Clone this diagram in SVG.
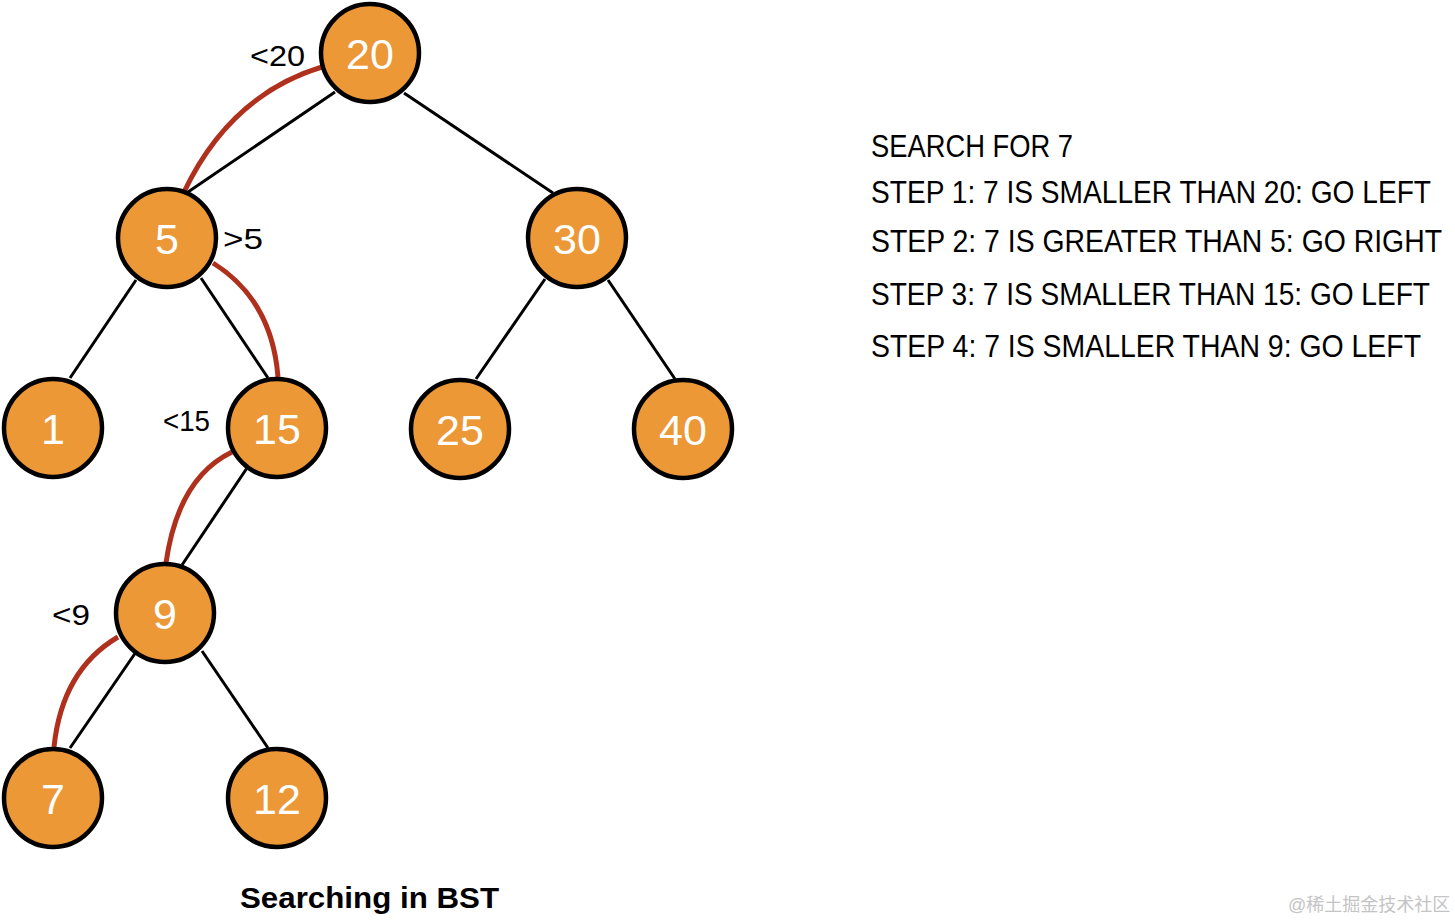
<svg xmlns="http://www.w3.org/2000/svg" width="1455" height="921" viewBox="0 0 1455 921">
<style>
.n circle{fill:#EC9836;stroke:#000;stroke-width:4.5}
.n text{fill:#fff;font-family:"Liberation Sans",Arial,sans-serif;font-size:43px;text-anchor:middle}
.e{stroke:#000;stroke-width:3;fill:none}
.p{stroke:#B0301E;stroke-width:5;fill:none}
.lbl{font-family:"Liberation Sans",Arial,sans-serif;font-size:30px;fill:#000}
.step{font-family:"Liberation Sans",Arial,sans-serif;font-size:28px;fill:#000}
</style>
<rect width="1455" height="921" fill="#fff"/>
<g id="connectors">
<line class="e" x1="335" y1="92" x2="188" y2="192"/>
<line class="e" x1="404" y1="93" x2="553" y2="193"/>
<line class="e" x1="136" y1="280" x2="70" y2="378"/>
<line class="e" x1="201" y1="278" x2="268" y2="378"/>
<line class="e" x1="545" y1="279" x2="476" y2="379"/>
<line class="e" x1="608" y1="280" x2="675" y2="379"/>
<line class="e" x1="247" y1="468" x2="182" y2="565"/>
<line class="e" x1="136" y1="652" x2="70" y2="748"/>
<line class="e" x1="202" y1="651" x2="268" y2="748"/>
<path class="p" d="M322,67 Q230,95 184,192"/>
<path class="p" d="M213,263 Q272,300 278,377"/>
<path class="p" d="M232,452 Q178,478 166,563"/>
<path class="p" d="M118,637 Q62,670 54,747"/>
</g>
<g id="node-20" class="n"><circle cx="370" cy="53" r="49"/><text x="370" y="69">20</text></g>
<g id="node-5" class="n"><circle cx="167" cy="238" r="49"/><text x="167" y="254">5</text></g>
<g id="node-30" class="n"><circle cx="577" cy="238" r="49"/><text x="577" y="254">30</text></g>
<g id="node-1" class="n"><circle cx="53" cy="428" r="49"/><text x="53" y="444">1</text></g>
<g id="node-15" class="n"><circle cx="277" cy="428" r="49"/><text x="277" y="444">15</text></g>
<g id="node-25" class="n"><circle cx="460" cy="429" r="49"/><text x="460" y="445">25</text></g>
<g id="node-40" class="n"><circle cx="683" cy="429" r="49"/><text x="683" y="445">40</text></g>
<g id="node-9" class="n"><circle cx="165" cy="613" r="49"/><text x="165" y="629">9</text></g>
<g id="node-7" class="n"><circle cx="53" cy="798" r="49"/><text x="53" y="814">7</text></g>
<g id="node-12" class="n"><circle cx="277" cy="798" r="49"/><text x="277" y="814">12</text></g>
<g id="labels">
<text class="lbl" x="250" y="66" textLength="55" lengthAdjust="spacingAndGlyphs">&lt;20</text>
<text class="lbl" x="223" y="249" textLength="40" lengthAdjust="spacingAndGlyphs">&gt;5</text>
<text class="lbl" x="163" y="431" textLength="47" lengthAdjust="spacingAndGlyphs">&lt;15</text>
<text class="lbl" x="52" y="625" textLength="38" lengthAdjust="spacingAndGlyphs">&lt;9</text>
</g>
<g id="steps">
<text class="step" transform="translate(871,157) scale(1,1.15)" textLength="202" lengthAdjust="spacingAndGlyphs">SEARCH FOR 7</text>
<text class="step" transform="translate(871,203) scale(1,1.15)" textLength="560" lengthAdjust="spacingAndGlyphs">STEP 1: 7 IS SMALLER THAN 20: GO LEFT</text>
<text class="step" transform="translate(871,252) scale(1,1.15)" textLength="571" lengthAdjust="spacingAndGlyphs">STEP 2: 7 IS GREATER THAN 5: GO RIGHT</text>
<text class="step" transform="translate(871,305) scale(1,1.15)" textLength="559" lengthAdjust="spacingAndGlyphs">STEP 3: 7 IS SMALLER THAN 15: GO LEFT</text>
<text class="step" transform="translate(871,357) scale(1,1.15)" textLength="550" lengthAdjust="spacingAndGlyphs">STEP 4: 7 IS SMALLER THAN 9: GO LEFT</text>
</g>
<text x="240" y="908" font-family="Liberation Sans,Arial,sans-serif" font-weight="bold" font-size="30" textLength="259" lengthAdjust="spacingAndGlyphs">Searching in BST</text>
<text x="1288" y="911" font-family="Liberation Sans,Noto Sans CJK SC,sans-serif" font-size="18" fill="#c4c4c4">@稀土掘金技术社区</text>
</svg>
